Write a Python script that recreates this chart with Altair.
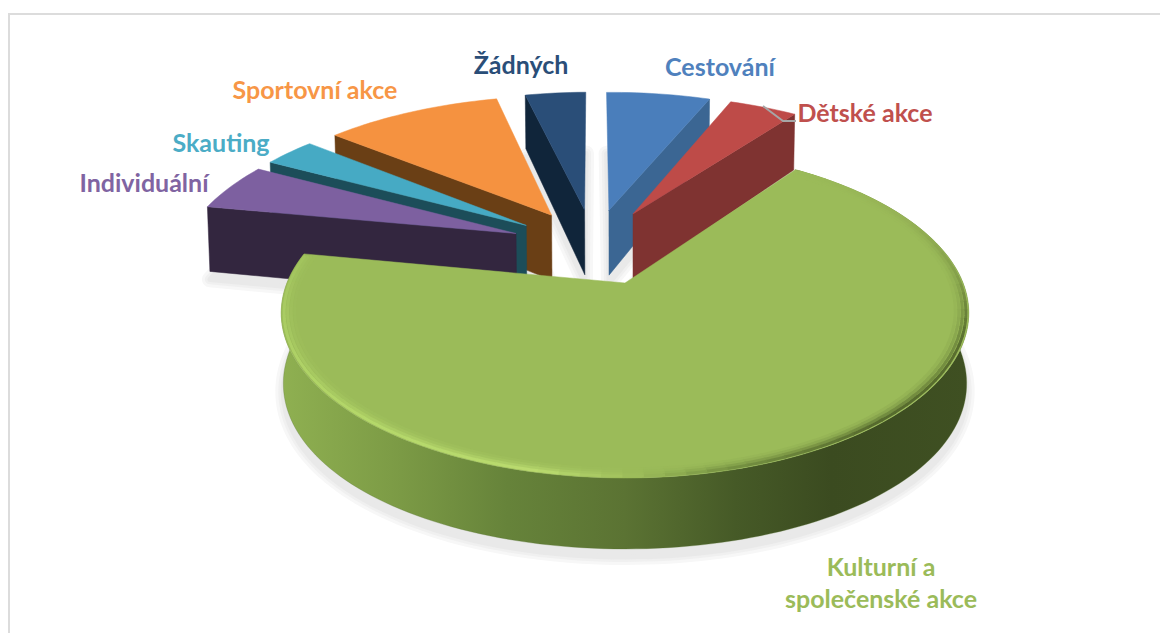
import math
import altair as alt

# ---- data (percent shares, clockwise from the top) ----
categories = ["Cestování", "Dětské akce", "Kulturní a společenské akce", "Individuální",
              "Skauting", "Sportovní akce", "Žádných"]
shares = [6.1, 4.0, 68.2, 4.9, 3.0, 10.25, 3.55]
START_ANGLE = -1.0

top_colors = ["#4a7ebb", "#be4b48", "#9bbb59", "#7d60a0", "#46aac4", "#f59240", "#2a4e78"]
side_colors = ["#3b6693", "#7f3331", "#6f8f3e", "#33263f", "#1c4d59", "#6a3f15", "#10253a"]
cut_side = ["right", "right", None, "left", "left", "left", "left"]
paint_order = [6, 5, 4, 3, 0, 1]   # back to front, green last
GREEN = 2

label_lines = [["Cestování"], ["Dětské akce"], ["Kulturní a", "společenské akce"], ["Individuální"],
               ["Skauting"], ["Sportovní akce"], ["Žádných"]]
label_colors = ["#4f81bd", "#c0504d", "#9bbb59", "#8064a2", "#4bacc6", "#f79646", "#2a4e78"]
label_anchor = [(720, 68), (865, 114), (881, 568), (144, 184), (221, 144), (315, 91), (521, 66)]

# ---- view of the tilted pie ----
X0, Y0, AX, BY, K = 625.0, 283.0, 338.0, 159.5, 0.182
EXPLODE, BACK_R = 0.26, 1.03


def project(u, v):
    w = 1 + K * v
    return X0 + AX * u / w, Y0 - BY * v / w


def lower(p):
    x, y = p
    d = 56 + 0.09375 * (y - 116) - 0.000197 * (y - 116) * (y - 212)
    return X0 + 0.994 * (x - X0), y + d


def unit(a):
    r = math.radians(a)
    return math.sin(r), math.cos(r)


edges, acc = [], START_ANGLE
for s in shares:
    edges.append((acc, acc + s * 3.6))
    acc += s * 3.6
mids = [(a + b) / 2 for a, b in edges]
gb = unit(mids[GREEN])
CENTER = (-EXPLODE * gb[0], -EXPLODE * gb[1])


def apex_world(i):
    m = unit(mids[i])
    return CENTER[0] + EXPLODE * m[0], CENTER[1] + EXPLODE * m[1]


def rim(i, a, r=None):
    r = r if r is not None else (1.0 if i == GREEN else BACK_R)
    ap, d = apex_world(i), unit(a)
    return project(ap[0] + r * d[0], ap[1] + r * d[1])


def arc(i, a0=None, a1=None, r=None):
    a0 = edges[i][0] if a0 is None else a0
    a1 = edges[i][1] if a1 is None else a1
    n = max(3, int(abs(a1 - a0) / 1.5))
    return [rim(i, a0 + (a1 - a0) * t / n, r) for t in range(n + 1)]


def apex(i):
    return project(*apex_world(i))


def poly(pts, **props):
    ring = [list(p) for p in pts] + [list(pts[0])]
    return {"type": "Feature", "properties": props, "geometry": {"type": "Polygon", "coordinates": [ring]}}


def line(pts, **props):
    return {"type": "Feature", "properties": props,
            "geometry": {"type": "LineString", "coordinates": [list(p) for p in pts]}}


def hex2rgb(h):
    return [int(h[j:j + 2], 16) for j in (1, 3, 5)]


def mix(a, b, t):
    ca, cb = hex2rgb(a), hex2rgb(b)
    return "#%02x%02x%02x" % tuple(round(x + (y - x) * t) for x, y in zip(ca, cb))


proj = alt.Projection(type="identity", scale=1, translate=[-8, -8])


def footprint(i):
    return [apex(i)] + arc(i)


# shadow
shadow = []
for col, wd in [("#f7f7f7", 16), ("#f0f0f0", 10), ("#e9e9e9", 5)]:
    for i in range(len(shares)):
        pts = [(x, y + 8) for x, y in map(lower, footprint(i))]
        shadow.append(poly(pts, f=col, s=col, w=wd))

# frame
frame = [line([(8, 14), (1160, 14)], s="#dcdcdc", w=2),
         line([(9, 14), (9, 635)], s="#dcdcdc", w=2)]

# back slices
solids = []
for i in paint_order:
    ap = apex(i)
    corner = rim(i, edges[i][0] if cut_side[i] == "left" else edges[i][1])
    face = [ap, corner, lower(corner), lower(ap)]
    solids.append(poly(face, f=side_colors[i], s=side_colors[i], w=0.5))
    solids.append(poly(footprint(i), f=top_colors[i], s=top_colors[i], w=0.5))

# green body
green_top_arc = arc(GREEN)
green_rim = poly(green_top_arc + [lower(p) for p in reversed(green_top_arc)])
green_gradient = alt.Gradient(gradient="linear", x1=0, x2=1, y1=0, y2=0, stops=[
    alt.GradientStop(offset=0.0, color="#8fb051"),
    alt.GradientStop(offset=0.16, color="#7d9c46"),
    alt.GradientStop(offset=0.33, color="#66833a"),
    alt.GradientStop(offset=0.5, color="#5b7333"),
    alt.GradientStop(offset=0.66, color="#465a27"),
    alt.GradientStop(offset=0.8, color="#3b4b20"),
    alt.GradientStop(offset=1.0, color="#3f5022"),
])
green_face = poly(footprint(GREEN), f=top_colors[GREEN], s=top_colors[GREEN], w=0.5)

# bevel along the green rim
bevel_stops = [(35, "#9bbb59"), (65, "#95b155"), (88, "#7f9a47"), (108, "#4f6329"), (140, "#4a5c26"), (165, "#6f8a3e"),
               (178, "#9bbb59"), (192, "#bfe073"), (225, "#b8dc6c"), (255, "#aed166"), (281, "#a2c45e")]


def bevel_color(a):
    for (a0, c0), (a1, c1) in zip(bevel_stops, bevel_stops[1:]):
        if a <= a1:
            return mix(c0, c1, max(0.0, (a - a0) / (a1 - a0)))
    return bevel_stops[-1][1]


bevel = []
g0, g1 = edges[GREEN]
for rad, strength, wd in [(0.962, 0.08, 3), (0.972, 0.22, 3), (0.982, 0.5, 3), (0.992, 0.85, 3)]:
    a = g0 + 1
    while a < g1 - 1:
        b = min(a + 3, g1 - 1)
        mid = (a + b) / 2
        bevel.append(line(arc(GREEN, a, b + 0.3, rad), s=mix(top_colors[GREEN], bevel_color(mid), strength), w=wd))
        a = b

leader = [line([(763, 106), (783, 121), (796, 121)], s="#a6a6a6", w=2)]

# labels
rows = []
for lines, col, (x, y) in zip(label_lines, label_colors, label_anchor):
    for k, t in enumerate(lines):
        rows.append({"lon": x, "lat": y + 32 * k, "t": t, "c": col})


def layer(features):
    return (alt.Chart(alt.Data(values=features)).mark_geoshape(filled=True, strokeJoin="round")
            .encode(fill=alt.Fill("properties.f:N", scale=None),
                    stroke=alt.Stroke("properties.s:N", scale=None),
                    strokeWidth=alt.StrokeWidth("properties.w:Q", scale=None)))


def strokes(features):
    return (alt.Chart(alt.Data(values=features)).mark_geoshape(filled=False, strokeCap="butt", fill=None)
            .encode(stroke=alt.Stroke("properties.s:N", scale=None),
                    strokeWidth=alt.StrokeWidth("properties.w:Q", scale=None)))


rim_layer = alt.Chart(alt.Data(values=[green_rim])).mark_geoshape(fill=green_gradient, stroke="#55702f", strokeWidth=0.3)
text_layer = (alt.Chart(alt.Data(values=rows))
              .mark_text(font="Lato", fontWeight="bold", fontSize=25, align="center", baseline="middle")
              .encode(longitude="lon:Q", latitude="lat:Q", text="t:N", color=alt.Color("c:N", scale=None)))

chart = (alt.layer(strokes(frame), layer(shadow), layer(solids), rim_layer, layer([green_face]),
                   strokes(bevel), strokes(leader), text_layer)
         .properties(width=1152, height=625, padding=0, background="#ffffff", projection=proj,
                     autosize=alt.AutoSizeParams(type="none"))
         .configure_view(stroke=None))

chart.save("out.html", embed_options={"renderer": "svg", "actions": False})
